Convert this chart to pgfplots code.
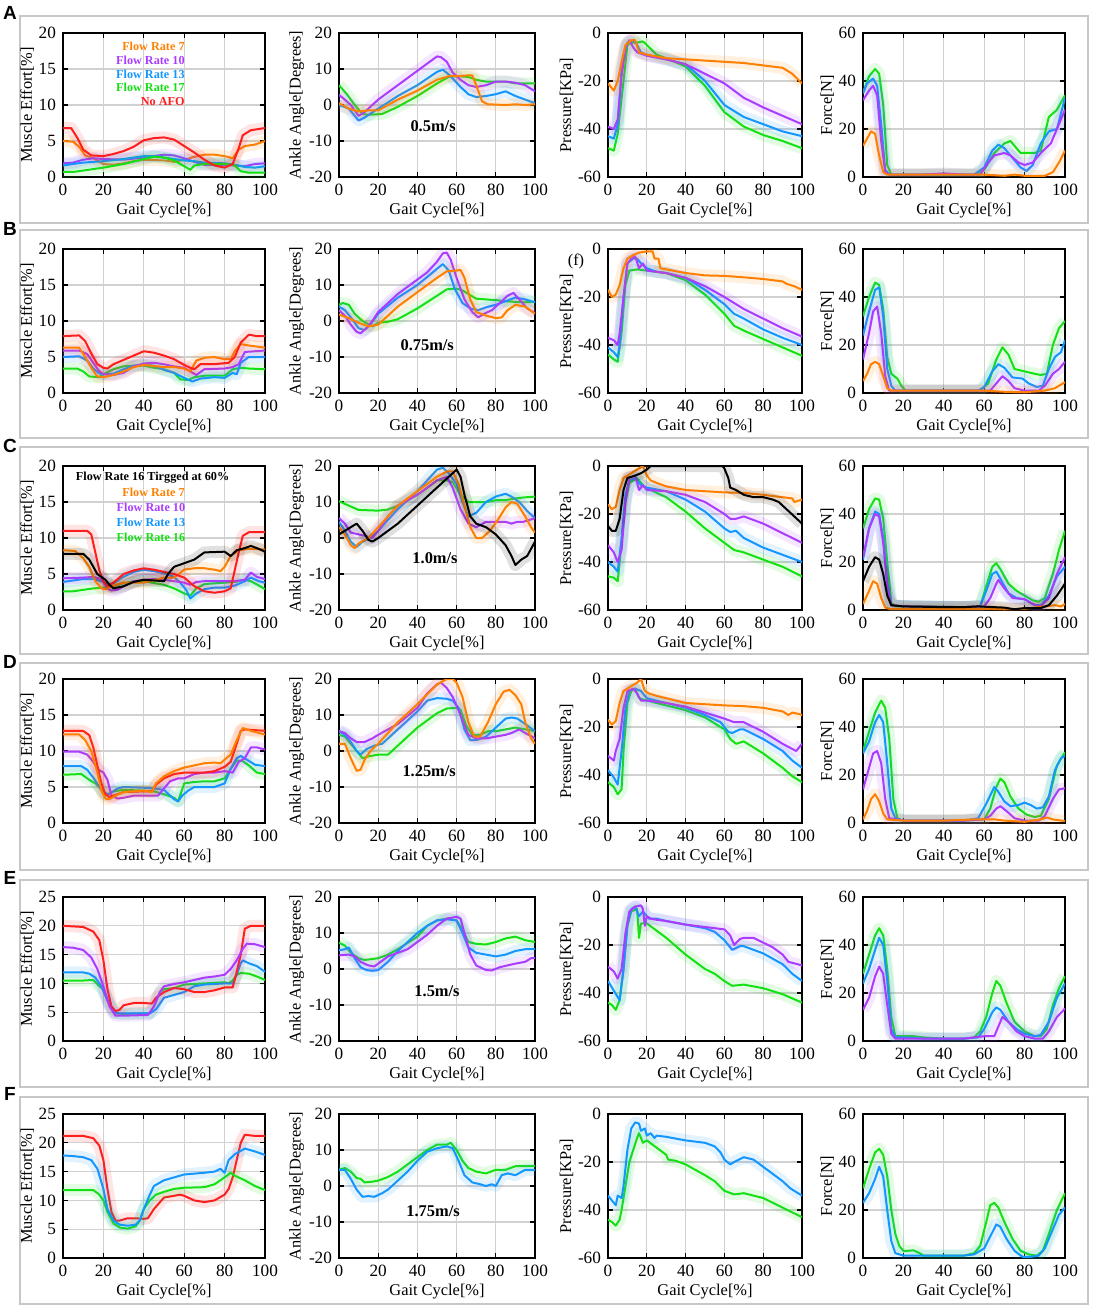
\documentclass[border=0pt]{standalone}
\usepackage{fontspec}
\setmainfont{Liberation Serif}
\setsansfont{Liberation Sans}
\usepackage{pgfplots}
\pgfplotsset{compat=1.18}
\definecolor{cO}{RGB}{255,128,0}
\definecolor{cP}{RGB}{170,60,255}
\definecolor{cB}{RGB}{20,150,255}
\definecolor{cG}{RGB}{20,225,20}
\definecolor{cR}{RGB}{255,30,30}
\definecolor{cK}{RGB}{0,0,0}
\newcommand\ser[2]{%
\addplot[color=#1,line width=6pt,opacity=0.12,line join=round,forget plot] coordinates {#2};
\addplot[color=#1,line width=1pt,line join=round] coordinates {#2};}
\newcommand\lfont{\bfseries\fontsize{6.1}{7}\selectfont}
\newcommand\sfont{\bfseries\fontsize{8.2}{9}\selectfont}
\pgfplotsset{
 base/.style={scale only axis, height=72pt, xmin=0, xmax=100, xtick={0,20,...,100},
  grid=major, grid style={black!18,line width=0.6pt},
  axis line style={line width=0.9pt}, every tick/.style={black,line width=0.6pt},
  major tick length=2.5pt, tick align=inside,
  ticklabel style={font=\fontsize{8.6}{9}\selectfont},
  label style={font=\fontsize{8.2}{9}\selectfont},
  /pgf/number format/assume math mode=true,
  xlabel={Gait Cycle[\%]}, xlabel shift=-3pt, ylabel shift=-4.5pt,
  anchor=north west, clip mode=individual},
 c1/.style={base, width=101pt, ymin=0, ymax=20, ytick={0,5,...,20}, ylabel={Muscle Effort[\%]}},
 c1e/.style={base, width=101pt, ymin=0, ymax=25, ytick={0,5,...,25}, ylabel={Muscle Effort[\%]}},
 c2/.style={base, width=98pt, ymin=-20, ymax=20, ytick={-20,-10,...,20}, ylabel={Ankle Angle[Degrees]}},
 c3/.style={base, width=97pt, ymin=-60, ymax=0, ytick={-60,-40,...,0}, ylabel={Pressure[KPa]}},
 c4/.style={base, width=101pt, ymin=0, ymax=60, ytick={0,20,...,60}, ylabel={Force[N]}},
}
\begin{document}
\begin{tikzpicture}
\useasboundingbox (0,0) rectangle (546.5pt,-653.5pt);
\foreach \t/\b in {16/223,230/438,447/654,663/870,880/1087,1097/1304}
  \draw[black!22,line width=0.9pt] (10pt,-\t*0.5pt) rectangle (544pt,-\b*0.5pt);
\foreach \l/\y in {A/6.5,B/114.5,C/223,D/331,E/439,F/547}
  \node[font=\sffamily\bfseries\fontsize{9.5}{11}\selectfont] at (5pt,-\y pt) {\l};

%%%%%%%%%%%%%%%% ROW A
\begin{axis}[c1, at={(31.5pt,-16.5pt)}]
\ser{cO}{(0,5.0) (5,4.9) (8,4.2) (11,3.0) (15,2.6) (20,1.8) (25,1.7) (30,1.9) (35,2.2) (40,2.4) (50,2.3) (55,2.1) (60,2.4) (65,2.8) (70,3.1) (75,3.1) (80,2.9) (84,2.6) (87,3.8) (90,4.3) (95,4.5) (100,5.0)}
\ser{cP}{(0,1.9) (5,2.0) (10,2.4) (15,2.6) (20,2.5) (30,2.4) (40,2.7) (50,3.1) (55,3.0) (60,2.6) (65,2.1) (70,1.7) (80,1.7) (85,1.6) (90,1.5) (95,1.8) (100,1.9)}
\ser{cB}{(0,1.6) (10,2.0) (20,2.2) (30,2.5) (40,2.9) (45,2.9) (50,2.7) (55,2.5) (60,2.3) (65,2.2) (70,2.0) (80,1.9) (85,1.7) (90,1.4) (95,1.3) (100,1.5)}
\ser{cG}{(0,0.7) (5,0.7) (10,0.9) (20,1.3) (30,1.8) (40,2.5) (45,2.8) (50,2.7) (55,2.3) (60,1.5) (63,1.0) (65,1.6) (70,1.8) (80,1.8) (85,1.6) (88,0.8) (92,0.6) (100,0.6)}
\ser{cR}{(0,6.8) (4,6.8) (7,5.5) (10,3.8) (14,3.0) (20,2.9) (25,3.2) (30,3.6) (35,4.2) (40,5.1) (45,5.4) (50,5.5) (55,5.2) (60,4.3) (65,3.4) (70,2.4) (75,1.6) (80,1.3) (84,1.8) (87,4.0) (89,5.8) (93,6.5) (100,6.8)}
\node[anchor=east,inner sep=0pt,text=cO,font=\lfont] at (axis cs:60.4,18.1) {Flow Rate 7};
\node[anchor=east,inner sep=0pt,text=cP,font=\lfont] at (axis cs:60.4,16.2) {Flow Rate 10};
\node[anchor=east,inner sep=0pt,text=cB,font=\lfont] at (axis cs:60.4,14.3) {Flow Rate 13};
\node[anchor=east,inner sep=0pt,text=cG,font=\lfont] at (axis cs:60.4,12.4) {Flow Rate 17};
\node[anchor=east,inner sep=0pt,text=cR,font=\lfont] at (axis cs:60.4,10.5) {No AFO};
\end{axis}
\begin{axis}[c2, at={(169.5pt,-16.5pt)}]
\ser{cG}{(0,5.5) (4,3) (8,0) (12,-2.5) (15,-2.7) (22,-2.5) (30,-0.5) (40,2.5) (50,6) (56,7.8) (60,8) (66,7.8) (70,7) (75,6.5) (80,6.5) (85,6.5) (90,6) (100,6)}
\ser{cB}{(0,0) (5,-1) (8,-3) (10,-4.3) (13,-3.5) (20,-1) (30,2.5) (40,5.5) (50,9.2) (53,9.8) (57,8) (62,5) (66,3) (70,2.2) (75,2.5) (80,3) (85,3.8) (90,2.5) (95,1.5) (100,0.5)}
\ser{cP}{(0,2.8) (3,1.5) (6,0) (10,-3) (13,-2) (20,1.5) (30,5.5) (40,9.5) (45,11.5) (50,13.5) (52,13.3) (55,12) (58,9) (62,7) (66,5.5) (70,5.0) (75,5.5) (80,6.5) (85,6.5) (90,6.2) (95,5.5) (100,3.8)}
\ser{cO}{(0,0.5) (5,-1) (10,-1.8) (15,-1.5) (20,-1.5) (30,1.5) (40,4) (50,7) (56,8) (60,8) (65,8.2) (68,8.2) (70,5.5) (73,1) (76,0.2) (85,0) (90,0.2) (95,0) (100,0.2)}
\node[font=\sfont] at (axis cs:48,-6.0) {0.5m/s};
\end{axis}
\begin{axis}[c3, at={(304pt,-16.5pt)}]
\ser{cG}{(0,-48) (3,-49) (5,-42) (8,-20) (10,-5) (12,-4) (15,-4) (18,-3.5) (20,-5) (25,-9) (30,-10.5) (40,-14) (50,-22) (60,-33) (70,-39) (80,-42.5) (90,-45) (100,-48)}
\ser{cB}{(0,-43) (3,-44) (5,-38) (7,-15) (10,-4) (13,-3) (15,-5) (17,-8) (20,-9) (30,-11) (40,-13) (50,-20) (60,-30) (70,-35) (80,-38) (90,-41) (100,-43)}
\ser{cP}{(0,-39) (3,-40) (5,-36) (7,-18) (9,-6) (11,-3) (13,-6) (15,-8) (20,-9.5) (30,-11) (40,-13) (50,-17) (60,-21) (70,-27) (80,-31) (90,-34.5) (100,-38)}
\ser{cO}{(0,-21) (3,-24) (5,-20) (7,-12) (9,-5) (12,-3) (14,-3) (16,-8) (20,-9) (30,-10.5) (40,-11) (50,-11.5) (60,-12) (70,-12.5) (80,-13.5) (90,-14.5) (95,-17) (100,-21)}
\end{axis}
\begin{axis}[c4, at={(431.5pt,-16.5pt)}]
\ser{cG}{(0,35) (3,42) (6,45) (8,43) (10,30) (12,5) (14,1) (20,1) (40,1) (55,1) (60,3) (65,10) (70,14) (73,15) (76,12) (78,10) (85,10) (88,11) (92,25) (96,28) (100,34)}
\ser{cB}{(0,35) (2,39) (5,41) (7,38) (9,22) (11,3) (13,1) (30,1) (55,1) (60,4) (64,11) (67,13.5) (70,12) (75,7) (78,4) (81,2.5) (84,5) (88,14) (92,19) (96,20) (100,33)}
\ser{cP}{(0,32) (3,36) (5,38) (7,34) (9,15) (11,2) (13,1) (30,1) (40,1.5) (50,1) (58,1) (62,6) (65,9) (70,10) (73,9) (77,6) (80,5) (84,6) (88,10) (93,14) (97,22) (100,28)}
\ser{cO}{(0,13) (2,16) (4,19) (6,18) (8,9) (10,2) (12,1) (30,1) (60,1) (70,0.5) (75,1) (80,0.5) (90,0.5) (94,2) (97,6) (100,11)}
\end{axis}

%%%%%%%%%%%%%%%% ROW B
\begin{axis}[c1, at={(31.5pt,-124.5pt)}]
\ser{cG}{(0,3.4) (7,3.4) (10,3.0) (13,2.3) (18,2.2) (20,2.6) (25,3.3) (30,3.7) (35,3.8) (40,3.8) (45,3.5) (50,3.3) (55,2.8) (58,1.9) (62,1.8) (65,2.2) (70,2.4) (80,2.4) (84,3.3) (88,3.5) (92,3.4) (100,3.3)}
\ser{cB}{(0,5.0) (8,5.1) (12,4.5) (15,3.4) (18,2.7) (20,2.6) (25,2.7) (30,3.3) (35,3.8) (40,3.9) (45,3.8) (50,3.2) (55,2.8) (60,2.1) (64,1.6) (68,2.0) (75,2.2) (80,2.1) (84,2.8) (86,2.6) (88,4.2) (92,5.0) (100,5.0)}
\ser{cP}{(0,5.9) (8,5.9) (12,5.4) (15,4.2) (18,3.0) (20,2.6) (25,2.5) (30,2.8) (35,3.7) (40,4.1) (45,4.2) (50,4.0) (55,3.7) (60,3.5) (63,3.0) (66,2.5) (70,3.3) (80,3.4) (84,3.6) (87,4.0) (90,5.7) (95,5.8) (100,5.9)}
\ser{cO}{(0,6.3) (8,6.3) (11,5.0) (14,3.5) (17,2.3) (20,2.2) (25,2.5) (30,3.0) (35,3.6) (40,3.9) (50,3.6) (55,3.6) (60,3.4) (63,3.0) (66,4.5) (70,4.9) (75,5.0) (80,4.7) (83,4.7) (85,5.8) (88,6.8) (92,6.6) (100,6.3)}
\ser{cR}{(0,7.9) (8,8.0) (11,7.2) (14,5.5) (17,4.0) (20,3.5) (22,3.4) (25,4.0) (30,4.6) (35,5.2) (40,5.8) (45,5.6) (50,5.2) (55,4.7) (60,3.9) (63,3.5) (65,3.3) (68,4.0) (75,4.0) (82,4.2) (85,5.0) (88,7.0) (92,8.1) (96,7.9) (100,7.9)}
\end{axis}
\begin{axis}[c2, at={(169.5pt,-124.5pt)}]
\ser{cG}{(0,4.5) (2,5.0) (5,4.5) (8,2.0) (12,0) (17,-1.5) (20,-0.5) (25,-0.2) (30,0.5) (40,3.5) (50,7) (55,8.8) (60,9) (63,8.5) (66,7.5) (70,6.2) (75,6) (80,5.8) (85,5.5) (90,5.3) (95,5.2) (100,5.3)}
\ser{cB}{(0,4.0) (3,3.0) (6,1) (10,-2) (13,-2.5) (16,-1) (20,2.0) (30,6.5) (40,10) (50,14.5) (53,15.8) (56,14) (59,9) (63,5) (67,3.5) (71,3.0) (75,3.8) (80,4.5) (85,5.5) (90,6.5) (95,6) (100,5.2)}
\ser{cP}{(0,3.0) (3,1.5) (6,-1) (9,-3) (11,-3.4) (14,-2) (17,0) (20,2.5) (30,7.5) (40,11.5) (45,13.5) (50,16.5) (53,18.8) (55,19) (57,17) (60,12) (64,6) (68,2.5) (71,1.0) (74,2.0) (78,3.0) (82,5.0) (86,7.0) (89,7.8) (92,6.0) (96,3.5) (100,2.2)}
\ser{cO}{(0,1.8) (5,0.8) (10,-0.5) (15,-1.5) (20,-1.0) (25,1.5) (30,4) (40,8) (50,12) (55,13.8) (60,14) (62,14.2) (64,12) (67,6) (70,2.5) (75,1.5) (80,0.8) (83,1.0) (86,3) (90,4.5) (95,4) (100,2.0)}
\node[font=\sfont] at (axis cs:45,-6.7) {0.75m/s};
\end{axis}
\begin{axis}[c3, at={(304pt,-124.5pt)}]
\ser{cG}{(0,-44) (3,-46) (5,-47) (7,-35) (9,-15) (11,-9) (15,-8.5) (20,-9) (30,-10) (40,-13) (50,-19) (60,-27) (65,-32) (70,-34) (80,-37.5) (90,-41) (100,-44.5)}
\ser{cB}{(0,-41) (3,-43) (5,-45) (6,-40) (8,-20) (10,-6) (13,-4) (15,-4) (17,-6) (20,-8) (25,-9.5) (30,-10) (40,-12) (50,-17) (60,-23) (65,-27) (70,-29) (80,-33.5) (90,-37) (100,-40)}
\ser{cP}{(0,-37) (3,-38) (5,-40) (6,-35) (8,-20) (10,-6) (12,-4) (14,-3) (16,-8) (18,-6) (20,-9) (25,-9.5) (30,-10) (40,-12) (50,-15.5) (60,-20) (70,-25) (80,-29) (90,-33) (100,-36.5)}
\ser{cO}{(0,-17) (2,-20) (4,-19) (6,-15) (8,-8) (10,-4) (13,-2.5) (16,-1.5) (20,-1) (23,-1) (24,-4) (26,-4) (27,-8) (30,-8.5) (40,-10) (50,-11) (60,-11.2) (70,-11.8) (80,-12.5) (90,-13.5) (92,-14.5) (96,-15.5) (100,-17)}
\node[font=\fontsize{8.2}{9}\selectfont] at (axis cs:-16.5,-5) {(f)};
\end{axis}
\begin{axis}[c4, at={(431.5pt,-124.5pt)}]
\ser{cG}{(0,32) (3,40) (6,46) (8,45) (10,35) (12,15) (14,8) (17,6) (19,3) (21,1) (40,1) (58,1) (62,4) (66,14) (69,19) (72,16) (75,10) (80,9) (85,8) (88,7.5) (91,8) (94,20) (97,27) (100,30)}
\ser{cB}{(0,24) (3,34) (6,43) (8,44) (10,32) (12,10) (14,3) (16,1) (40,1) (57,1) (60,2.5) (64,9) (67,12) (70,10.5) (74,6.5) (79,6) (82,4) (86,2.5) (89,3) (92,10) (95,15) (98,17) (100,22)}
\ser{cP}{(0,14) (3,25) (5,34) (7,36) (9,25) (11,7) (13,1) (20,1) (60,1) (63,1) (66,4) (69,7) (72,5) (75,2) (80,1) (87,1) (90,3) (94,8) (97,10) (100,13)}
\ser{cO}{(0,5) (2,8) (4,12) (6,13) (8,12) (10,7) (12,2) (14,1) (30,1) (60,1) (70,0.5) (80,0.3) (90,1) (95,2) (98,3.5) (100,4.5)}
\end{axis}

%%%%%%%%%%%%%%%% ROW C
\begin{axis}[c1, at={(31.5pt,-233pt)}]
\ser{cG}{(0,2.6) (5,2.6) (10,2.8) (15,3.0) (20,3.1) (25,3.3) (30,3.7) (35,4.0) (40,4.0) (50,3.5) (55,3.0) (60,2.3) (63,2.0) (66,3.0) (70,3.6) (80,3.8) (85,3.9) (90,4.2) (93,4.0) (97,3.4) (100,2.9)}
\ser{cB}{(0,3.9) (5,4.1) (10,4.3) (15,4.3) (19,4.0) (22,3.6) (25,3.7) (30,4.6) (35,5.3) (40,5.6) (45,5.4) (50,5.1) (55,4.6) (58,3.8) (61,2.8) (63,1.6) (66,2.3) (70,2.9) (75,3.1) (80,3.1) (85,3.4) (90,4.0) (93,4.5) (97,4.0) (100,3.8)}
\ser{cP}{(0,4.4) (10,4.5) (15,4.6) (19,4.3) (22,3.0) (24,2.7) (27,2.8) (30,3.3) (35,4.0) (40,4.2) (45,4.3) (50,4.2) (55,4.0) (60,3.8) (63,3.5) (66,3.9) (70,4.0) (80,4.0) (85,4.0) (90,4.2) (93,5.2) (96,4.6) (100,4.3)}
\ser{cO}{(0,8.3) (6,8.2) (10,7.2) (13,6.0) (16,4.0) (19,3.0) (21,2.9) (25,3.4) (30,3.8) (40,3.8) (50,4.5) (55,4.5) (60,5.6) (65,5.8) (70,5.8) (75,5.6) (78,5.4) (80,6.0) (83,7.5) (87,8.3) (92,8.5) (100,8.4)}
\ser{cR}{(0,11.0) (12,11.0) (14,10.5) (16,8) (18,5.5) (20,4) (22,3.3) (25,3.8) (30,5.0) (35,5.5) (40,5.8) (45,5.6) (50,5.3) (55,5.0) (60,4.5) (65,3.3) (70,2.6) (75,2.4) (80,2.6) (83,3.0) (85,5.5) (87,8) (89,10.3) (92,10.8) (100,10.8)}
\ser{cK}{(0,7.8) (10,7.8) (13,7.0) (17,5.0) (21,4.2) (23,3.5) (25,3.0) (30,3.3) (35,3.9) (40,4.2) (45,4.1) (50,4.0) (52,5.0) (55,6.0) (60,6.5) (65,7.0) (70,8.0) (80,8.1) (83,7.5) (86,8.3) (90,8.6) (93,8.9) (96,8.6) (100,8.1)}
\node[anchor=west,inner sep=0pt,text=cK,font=\lfont] at (axis cs:6.2,18.4) {Flow Rate 16 Tirgged at 60\%};
\node[anchor=west,inner sep=0pt,text=cO,font=\lfont] at (axis cs:29.2,16.3) {Flow Rate 7};
\node[anchor=west,inner sep=0pt,text=cP,font=\lfont] at (axis cs:26.4,14.2) {Flow Rate 10};
\node[anchor=west,inner sep=0pt,text=cB,font=\lfont] at (axis cs:26.4,12.2) {Flow Rate 13};
\node[anchor=west,inner sep=0pt,text=cG,font=\lfont] at (axis cs:26.4,10.1) {Flow Rate 16};
\end{axis}
\begin{axis}[c2, at={(169.5pt,-233pt)}]
\ser{cG}{(0,10.2) (5,9) (10,7.8) (20,7.6) (25,7.9) (30,9) (40,12) (50,16) (55,16) (58,15.5) (62,12) (66,10) (70,10) (75,10) (80,10.5) (85,10.5) (90,11) (95,11.3) (100,11.5)}
\ser{cB}{(0,4.5) (3,2) (6,-1) (9,-2.5) (12,-1) (16,0) (20,2) (25,5) (30,8) (40,13) (45,16) (50,19) (53,19.5) (56,18) (60,15) (63,10) (66,6) (70,7) (75,10) (80,11.5) (85,12.3) (88,11.5) (92,10) (96,7.5) (100,5.5)}
\ser{cP}{(0,5.5) (3,4) (6,1.5) (10,1.0) (14,0.5) (17,0) (20,2) (25,6) (30,9) (40,12) (50,16) (55,17) (58,14) (62,8) (66,4) (70,3) (75,4.5) (80,4.5) (85,4.5) (88,4) (91,4.5) (94,4.5) (97,5) (100,5.5)}
\ser{cO}{(0,3) (3,1) (6,-2) (8,-2.8) (10,-1.5) (15,0) (20,3) (25,6) (30,9) (40,13) (50,17) (55,18.5) (58,18.5) (61,15) (64,9) (67,3) (70,0) (73,0) (77,2) (81,5) (85,8.5) (88,10) (91,9.5) (95,6) (98,3) (100,1.5)}
\ser{cK}{(0,1) (3,2) (6,3) (9,4) (12,2) (15,-0.5) (17,-1) (20,0) (25,2) (30,4) (40,9) (50,14) (55,16.5) (58,18) (60,19) (62,17) (64,12) (67,6) (70,4) (75,3) (80,1) (85,-2) (88,-5) (90,-7.5) (93,-6) (96,-5) (100,-1)}
\node[font=\sfont] at (axis cs:49,-5.6) {1.0m/s};
\end{axis}
\begin{axis}[c3, at={(304pt,-233pt)}]
\ser{cG}{(0,-46) (3,-46.5) (5,-48) (7,-32) (9,-15) (11,-7) (15,-5) (18,-8) (20,-9.5) (22,-10) (30,-13) (40,-19) (50,-26) (60,-32) (65,-35) (70,-36) (80,-39) (90,-42) (100,-46)}
\ser{cB}{(0,-40) (3,-42) (5,-44) (7,-30) (9,-12) (11,-6) (14,-5) (17,-8) (20,-9) (30,-10.5) (40,-14) (50,-19) (60,-26) (63,-27.5) (66,-27) (70,-30) (80,-34) (90,-37) (100,-40)}
\ser{cP}{(0,-33) (3,-36) (5,-40) (7,-35) (9,-15) (11,-5) (14,-4) (16,-10) (18,-8) (20,-10) (30,-10.5) (40,-12) (50,-15) (60,-20) (63,-22) (66,-22) (70,-21) (80,-24) (90,-28) (100,-32)}
\ser{cO}{(0,-16) (2,-18) (4,-17) (6,-10) (8,-5) (12,-3) (15,-1.5) (18,0) (20,-4) (22,-6) (25,-7) (30,-8.5) (40,-10) (50,-10.5) (60,-11) (70,-11.2) (80,-12) (90,-13) (95,-13.5) (96,-15) (100,-14)}
\ser{cK}{(0,-25) (2,-27) (4,-27) (6,-22) (8,-10) (10,-5) (14,-4) (17,-3) (20,-1.5) (22,0) (30,0) (40,0) (50,0) (59,0) (60,-1) (62,-5) (63,-9) (66,-10) (70,-12) (75,-13) (80,-13) (85,-14) (88,-15) (92,-18) (96,-21) (100,-24)}
\end{axis}
\begin{axis}[c4, at={(431.5pt,-233pt)}]
\ser{cG}{(0,34) (3,42) (6,46.5) (8,46) (10,38) (12,20) (14,3) (16,1.5) (30,1.5) (50,1.2) (58,1.5) (61,10) (64,18) (66,19.5) (68,17) (72,11) (76,8) (80,6) (84,4) (87,3.5) (90,5) (94,15) (97,25) (100,33)}
\ser{cB}{(0,21) (3,34) (6,41) (8,40) (10,30) (12,12) (14,2) (20,1.5) (50,1.2) (58,1.5) (61,8) (64,15) (66,16) (68,13) (72,7) (76,5) (80,4.5) (85,2) (88,2) (92,6) (96,14) (100,18)}
\ser{cP}{(0,22) (3,34) (6,40) (8,39) (10,28) (12,10) (14,2) (20,1.5) (50,1.2) (60,1.5) (63,5) (66,11) (67,12.5) (70,9) (74,5) (80,4.5) (84,2.5) (88,1.5) (92,5) (96,15) (100,22)}
\ser{cO}{(0,2.5) (3,8) (5,12) (7,11) (9,5) (11,1) (13,0.5) (30,0.5) (60,0.5) (70,0.3) (80,0.5) (90,1.5) (95,2) (98,1.5) (100,2.5)}
\ser{cK}{(0,12) (3,18) (6,22) (8,21) (10,15) (12,6) (14,2) (20,1.5) (40,1.2) (50,1.2) (57,1.5) (62,1.3) (70,1) (75,0.3) (80,0.8) (88,0.8) (92,2) (96,6) (100,11)}
\end{axis}

%%%%%%%%%%%%%%%% ROW D
\begin{axis}[c1, at={(31.5pt,-339.5pt)}]
\ser{cG}{(0,6.7) (9,6.8) (13,6.0) (16,5.5) (18,5.0) (21,3.8) (25,4.4) (30,4.6) (40,4.5) (45,4.4) (50,4.0) (55,3.5) (57,3.0) (60,5.5) (65,5.7) (70,5.8) (75,5.8) (80,6.2) (83,7.5) (86,8.7) (89,8.6) (92,8.0) (96,7.0) (100,6.8)}
\ser{cB}{(0,7.9) (9,7.9) (12,7.4) (15,6.3) (18,5.0) (20,4.2) (23,4.0) (27,4.8) (30,5.0) (40,4.9) (45,4.8) (50,4.6) (55,3.3) (57,3.0) (59,3.8) (62,4.5) (65,5.0) (70,5.0) (75,5.0) (80,5.5) (83,7.5) (86,9.0) (88,9.3) (91,8.8) (95,8.1) (100,7.9)}
\ser{cP}{(0,9.9) (8,9.9) (12,9.5) (15,8.5) (17,7.5) (20,7) (22,6.0) (24,3.8) (27,3.4) (30,3.5) (35,3.8) (40,3.8) (47,3.8) (50,4.8) (53,5.8) (57,6.2) (60,6.2) (65,6.8) (70,7.0) (75,7.0) (80,7.2) (84,7.0) (87,8.5) (90,9.0) (93,10.5) (96,10.5) (100,10.2)}
\ser{cR}{(0,12.8) (10,12.8) (13,12.2) (15,10.5) (17,8) (19,5.5) (21,4) (23,3.6) (25,3.8) (30,4.3) (40,4.4) (44,4.4) (46,5.3) (50,6.2) (55,6.8) (60,7.0) (65,7.0) (70,7.0) (75,7.2) (80,7.8) (83,8.5) (86,11) (88,12.8) (90,13.0) (95,12.9) (100,12.8)}
\ser{cO}{(0,12.3) (8,12.3) (11,11.5) (14,10) (17,7) (19,4.5) (21,3.4) (23,3.3) (26,3.8) (30,4.3) (40,4.5) (44,4.3) (46,5.5) (50,6.5) (55,7.2) (60,7.7) (65,8.0) (70,8.3) (75,8.4) (78,8.3) (80,8.8) (83,9.5) (86,11.5) (89,13.2) (93,12.8) (100,12.3)}
\end{axis}
\begin{axis}[c2, at={(169.5pt,-339.5pt)}]
\ser{cG}{(0,4.5) (3,4) (6,2) (9,0) (12,-2) (15,-1.5) (20,-1) (25,-1) (30,1.5) (40,6.5) (50,10.5) (55,11.8) (60,12) (62,11.5) (65,7) (68,4.5) (72,4.5) (76,5.5) (80,5.5) (85,6) (90,6.5) (95,6) (100,5.5)}
\ser{cB}{(0,5.5) (3,4.5) (6,2.5) (9,0) (11,-1) (14,0.5) (18,1.5) (22,2) (30,6) (40,11) (45,14) (50,14.7) (55,14.5) (58,14) (61,12) (64,6) (67,3) (70,3) (75,4) (80,6.5) (85,9) (88,9.3) (91,9) (95,7.5) (100,5.5)}
\ser{cP}{(0,5.5) (3,5) (6,3.5) (9,2.5) (13,2.5) (17,3.5) (20,4.5) (30,7.5) (40,12) (45,16) (50,18.5) (52,19) (55,17.5) (58,15) (62,10) (66,4.5) (70,3.5) (75,3.5) (80,4) (85,4.5) (88,5) (92,6) (95,5) (100,3.5)}
\ser{cO}{(0,2) (3,2) (6,-2) (9,-5.5) (11,-5.2) (13,-2.5) (16,0) (20,2) (30,8) (40,13) (50,18.5) (55,20) (58,20) (60,19) (63,15) (66,8) (69,4) (72,4) (76,8) (80,13) (84,16.5) (87,17) (90,15.5) (93,13) (95,8) (98,3.5) (100,2)}
\node[font=\sfont] at (axis cs:46,-5.7) {1.25m/s};
\end{axis}
\begin{axis}[c3, at={(304pt,-339.5pt)}]
\ser{cG}{(0,-43) (3,-45) (5,-48) (7,-46) (8,-30) (10,-10) (12,-5) (14,-4) (16,-8) (20,-9) (30,-11) (40,-13) (50,-16) (60,-21) (63,-25) (66,-27) (70,-26) (80,-31) (90,-37) (95,-40.5) (100,-43)}
\ser{cB}{(0,-38) (3,-41) (5,-44) (7,-30) (9,-12) (11,-5) (14,-4) (17,-5) (20,-8) (25,-9) (30,-10) (40,-12) (50,-15) (58,-18) (62,-22) (64,-22.5) (68,-21) (70,-21) (80,-25) (90,-30) (95,-34) (100,-37)}
\ser{cP}{(0,-32) (3,-34) (4,-30) (6,-25) (8,-12) (10,-5) (13,-4) (15,-6) (17,-9) (20,-9) (25,-9.5) (30,-10) (40,-11.5) (50,-14) (60,-16.5) (65,-18) (70,-18) (80,-22) (90,-27) (97,-30) (100,-27)}
\ser{cO}{(0,-17) (2,-19) (4,-17.5) (6,-10) (8,-5) (12,-3) (15,-1.5) (17,0) (19,-5) (21,-6) (25,-7) (30,-8) (40,-10) (50,-10.5) (60,-11) (70,-11.3) (80,-12) (90,-13.5) (93,-15) (95,-14) (98,-14.5) (100,-15)}
\end{axis}
\begin{axis}[c4, at={(431.5pt,-339.5pt)}]
\ser{cG}{(0,30) (3,38) (6,46) (9,51) (11,48) (13,35) (15,10) (17,2) (20,1) (30,1) (50,1) (60,1.5) (63,6) (66,15) (68,18.5) (70,17) (73,11) (77,6) (81,3.5) (85,2.5) (88,3) (92,10) (96,24) (100,29.5)}
\ser{cB}{(0,29) (3,34) (6,42) (8,45) (10,42) (12,25) (14,6) (16,2) (20,1) (50,1) (57,2) (61,8) (65,15) (67,13) (70,9) (73,7) (77,7.5) (80,8.5) (83,7.5) (86,6) (89,6.5) (92,11) (95,22) (98,27) (100,28)}
\ser{cP}{(0,14) (3,23) (5,29) (7,30) (9,25) (11,10) (13,2) (20,1) (50,1) (60,1.5) (63,3) (66,6) (68,7) (71,5) (75,2) (80,1) (87,1) (90,3) (94,10) (97,14) (100,14.5)}
\ser{cO}{(0,1.5) (2,5) (4,10) (6,12) (8,9) (10,4) (12,1.5) (20,1) (40,1) (55,1.5) (65,1.5) (70,1) (80,0.5) (88,1.5) (91,2.3) (94,1.5) (100,0.8)}
\end{axis}

%%%%%%%%%%%%%%%% ROW E
\begin{axis}[c1e, at={(31.5pt,-448.5pt)}]
\ser{cG}{(0,10.5) (10,10.5) (15,10.6) (18,9.5) (20,9) (23,6.5) (26,4.8) (30,4.7) (40,4.8) (43,4.8) (45,6) (48,8.5) (50,9) (55,9.2) (60,9.8) (70,10) (80,10.2) (82,10) (84,10.5) (86,11.5) (88,11.8) (92,11.7) (96,11.2) (100,10.6)}
\ser{cB}{(0,11.9) (10,11.9) (13,11.7) (16,11) (19,9.5) (22,7) (25,5) (28,4.8) (35,4.8) (40,4.8) (43,4.8) (46,5.5) (50,7.5) (55,8) (60,8.5) (65,9.5) (70,9.8) (80,10) (84,10) (86,11.5) (88,13.5) (89,14) (92,13.5) (96,13) (100,12)}
\ser{cR}{(0,20) (10,19.8) (15,19) (18,17.5) (20,14) (22,9) (24,6) (26,5.2) (28,5.4) (30,6.2) (35,6.6) (40,6.6) (44,6.5) (46,7.5) (50,8.5) (55,9.2) (60,9.0) (65,8.5) (70,8.5) (75,8.8) (80,9.3) (84,9.3) (86,12) (88,15) (90,19.5) (93,20) (100,20)}
\ser{cP}{(0,16.3) (5,16.2) (10,15.8) (14,14.5) (17,12.5) (20,9.5) (23,6) (26,4.4) (30,4.4) (40,4.5) (42,4.5) (45,6) (48,8.5) (50,9.5) (55,9.9) (60,10.2) (65,10.6) (70,11) (75,11.2) (80,11.5) (83,12.5) (86,14) (89,16) (91,16.9) (95,16.8) (100,16.3)}
\end{axis}
\begin{axis}[c2, at={(169.5pt,-448.5pt)}]
\ser{cG}{(0,7.3) (3,6.5) (6,4.5) (10,3.0) (13,2.5) (20,3.0) (25,4.0) (30,5.5) (40,9) (45,12) (50,13.5) (55,14) (60,13.5) (63,11) (66,7.5) (70,7) (75,6.8) (80,7.5) (85,8.5) (90,9) (95,8) (100,7.5)}
\ser{cB}{(0,5.2) (3,5.5) (5,6) (8,3) (11,0.5) (14,-0.3) (17,-0.5) (20,-0.3) (25,2) (30,5) (35,7.5) (40,10) (45,12) (50,13.5) (55,13.8) (60,13.5) (63,10) (66,6) (70,4.5) (75,4) (80,3.5) (85,4) (90,5) (95,5.5) (100,5.5)}
\ser{cP}{(0,3.8) (5,4) (8,3.5) (11,2) (15,1) (18,0.7) (20,1.5) (25,3.5) (30,4.5) (35,5.5) (40,7.5) (45,9.5) (50,12) (55,14) (60,14.5) (62,14) (64,10) (67,4) (70,1) (75,-0.3) (78,-0.4) (82,0.5) (86,1) (90,1.5) (95,2) (98,3) (100,3)}
\node[font=\sfont] at (axis cs:50,-6.1) {1.5m/s};
\end{axis}
\begin{axis}[c3, at={(304pt,-448.5pt)}]
\ser{cG}{(0,-44) (2,-45) (4,-47) (6,-43) (8,-30) (10,-12) (12,-6) (15,-5) (16,-17) (17,-11) (20,-11) (25,-14) (30,-17) (40,-24) (50,-30) (55,-32) (60,-35) (64,-37) (70,-36.5) (80,-38) (90,-40.5) (100,-44)}
\ser{cB}{(0,-35) (3,-39) (6,-43) (8,-30) (10,-12) (12,-5) (14,-4) (16,-8) (18,-6) (21,-9) (25,-9) (30,-10) (40,-11.5) (50,-13) (55,-14.5) (60,-18) (64,-22) (68,-20.5) (70,-20.5) (80,-23.5) (90,-28) (95,-32) (100,-35)}
\ser{cP}{(0,-29) (3,-31) (5,-34) (7,-30) (9,-15) (11,-6) (14,-4) (17,-3.5) (18,-5) (19,-12) (20,-8) (22,-9) (25,-9.5) (30,-10) (40,-11.5) (50,-12.5) (60,-13.5) (63,-16) (65,-20) (68,-17.5) (70,-17) (75,-17) (80,-19) (85,-21) (90,-24) (93,-27) (100,-28.5)}
\end{axis}
\begin{axis}[c4, at={(431.5pt,-448.5pt)}]
\ser{cG}{(0,28) (3,36) (6,44) (8,47) (10,44) (12,30) (14,10) (16,2) (20,2) (25,2) (30,1.5) (40,1) (50,1) (55,1.5) (58,4) (61,10) (64,20) (66,25) (68,23) (71,16) (75,8) (80,4) (85,2) (88,2) (91,5) (94,15) (97,22) (100,27)}
\ser{cB}{(0,24) (3,30) (6,38) (8,43) (10,40) (12,25) (14,5) (16,1.5) (20,1.5) (30,1) (50,1) (57,1.5) (60,5) (64,12) (66,14) (68,13) (72,8) (76,5) (80,3) (85,2) (88,2.5) (92,8) (96,18) (100,24)}
\ser{cP}{(0,13) (3,18) (6,27) (8,31) (10,28) (12,15) (14,3) (16,1) (30,1) (50,1) (60,2) (65,2) (67,6) (69,10) (72,8) (76,4) (80,2) (85,1) (89,1) (92,4) (96,10) (100,13.5)}
\end{axis}

%%%%%%%%%%%%%%%% ROW F
\begin{axis}[c1e, at={(31.5pt,-557pt)}]
\ser{cR}{(0,21.2) (10,21.2) (15,20.8) (18,19.5) (20,17) (22,12) (24,8) (26,6.5) (28,6.5) (32,6.9) (36,6.9) (40,6.8) (42,6.9) (45,8.5) (50,10.5) (55,10.8) (58,11) (60,10.8) (65,10) (70,9.7) (75,10) (80,11) (82,12) (84,14) (86,17) (88,20) (90,21.4) (95,21.2) (100,21.2)}
\ser{cG}{(0,11.8) (10,11.8) (15,11.8) (18,11) (20,10) (22,8) (25,6) (28,5.3) (32,5.1) (36,5.5) (38,6.5) (40,8.5) (43,10) (46,11) (50,11.5) (55,12) (60,12.2) (70,12.3) (75,12.8) (80,14) (83,14.8) (85,14.3) (90,13.5) (95,12.5) (100,11.8)}
\ser{cB}{(0,17.8) (5,17.7) (10,17.5) (14,17) (17,15.5) (20,12) (22,8.5) (25,6.5) (28,5.8) (32,5.6) (36,5.8) (38,6.5) (40,8.5) (43,11) (45,12.5) (50,13.5) (55,14) (60,14.5) (70,14.8) (75,15) (78,15.5) (80,14.8) (82,17) (85,18) (90,19) (95,18.5) (100,17.9)}
\end{axis}
\begin{axis}[c2, at={(169.5pt,-557pt)}]
\ser{cG}{(0,4.5) (3,5) (6,4) (9,2.2) (11,2) (13,1) (17,1.2) (20,1.5) (25,2.5) (30,4) (35,6) (40,8) (45,10) (50,11.5) (55,11.5) (57,12) (60,10) (63,7) (66,5) (70,4) (75,3.5) (80,4.5) (85,4.5) (90,5.5) (95,5.5) (100,5.5)}
\ser{cB}{(0,4.5) (3,4.5) (6,2) (9,-1) (12,-3) (15,-2.8) (18,-3) (22,-2) (25,-1) (30,1.5) (35,4) (40,7) (45,9.5) (50,10.5) (55,11) (58,10.5) (61,7) (64,3) (68,1) (72,0.5) (75,0) (78,0.5) (80,0) (83,3) (86,3.5) (90,3) (95,4.5) (100,4.5)}
\node[font=\sfont] at (axis cs:48,-7.1) {1.75m/s};
\end{axis}
\begin{axis}[c3, at={(304pt,-557pt)}]
\ser{cG}{(0,-44) (2,-45) (4,-46.5) (6,-44) (7,-40) (9,-30) (11,-20) (13,-15) (15,-10) (16,-8) (18,-12) (20,-11) (25,-14) (30,-17) (31,-19) (35,-19.5) (40,-21) (50,-25.5) (55,-28) (60,-32) (65,-33.5) (70,-33) (80,-35) (90,-39) (100,-43)}
\ser{cB}{(0,-34) (2,-36) (4,-38) (5,-34) (7,-35) (8,-30) (10,-15) (12,-6) (14,-3.5) (16,-4) (17,-7) (19,-6) (20,-9) (22,-8) (24,-10) (25,-9) (30,-9.5) (40,-11) (50,-12) (55,-13.5) (58,-16) (60,-19) (63,-21) (65,-20) (70,-18) (75,-19) (80,-22) (90,-28) (94,-31) (100,-34)}
\end{axis}
\begin{axis}[c4, at={(431.5pt,-557pt)}]
\ser{cG}{(0,29) (3,37) (6,44) (8,45.5) (10,43) (12,34) (14,20) (16,10) (18,5) (20,3) (22,3) (25,3.2) (28,2) (30,1) (50,1) (55,2) (58,5) (61,15) (63,22) (65,23) (67,21) (70,15) (74,8) (78,3) (82,1.5) (86,1) (89,3) (92,10) (96,20) (100,27)}
\ser{cB}{(0,23) (3,27) (6,33) (8,38) (10,34) (12,20) (14,7) (16,2) (20,1) (40,1) (50,1) (55,1.5) (60,4) (63,9) (66,14) (68,13) (71,8) (75,3) (79,0.5) (83,0.5) (87,1) (90,4) (94,12) (97,18) (100,21)}
\end{axis}
\end{tikzpicture}
\end{document}
